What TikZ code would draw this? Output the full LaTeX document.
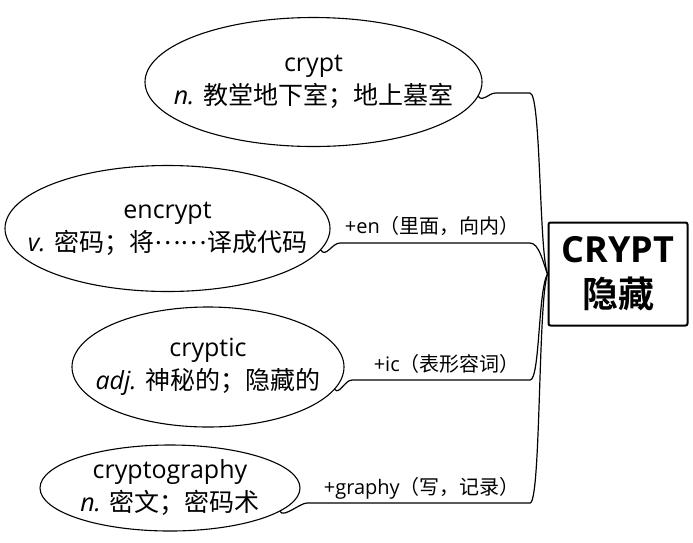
\documentclass[tikz,border=0pt]{standalone}
\usepackage{fontspec}
\setmainfont{Open Sans}
\newfontfamily\cjk{Noto Sans CJK SC}[BoldFont={Noto Sans CJK SC Bold}]
\newcommand\zhtxt[1]{{\cjk #1}}
\usetikzlibrary{shapes.geometric}
\begin{document}
\begin{tikzpicture}[x=1pt,y=-1pt,
  word/.style={ellipse,draw,line width=1.1pt,inner xsep=-70pt,inner ysep=-20pt,
    align=center,font=\fontsize{25}{33}\selectfont},
  conn/.style={line width=1.2pt,line join=round},
  lab/.style={inner sep=0pt,anchor=base east,font=\fontsize{20}{22}\selectfont},
  root/.style={draw,line width=2pt,rounded corners=2pt,align=center,
    minimum width=139pt,minimum height=103pt,inner sep=0pt,
    font=\fontsize{36}{45}\selectfont\bfseries}]
\useasboundingbox (0,0) rectangle (693,542);
\node[word,minimum width=337pt,minimum height=129pt] (e1) at (313.5,82)
  {crypt\\\textit{n.} \zhtxt{教堂地下室；地上墓室}};
\node[word,minimum width=325pt,minimum height=126pt] (e2) at (167.5,228.5)
  {encrypt\\\textit{v.} \zhtxt{密码；将\raisebox{0.28em}[0pt][0pt]{……}译成代码}};
\node[word,minimum width=272pt,minimum height=120pt] (e3) at (208,367)
  {cryptic\\\textit{adj.} \zhtxt{神秘的；隐藏的}};
\node[word,minimum width=260pt,minimum height=86pt] (e4) at (170,488)
  {cryptography\\\textit{n.} \zhtxt{密文；密码术}};
\node[root] (box) at (618,274) {CRYPT\\\zhtxt{隐藏}};
\node[lab] (l2) at (520,233) {+en\zhtxt{（里面，向内）}};
\node[lab] (l3) at (520,371) {+ic\zhtxt{（表形容词）}};
\node[lab] (l4) at (520,494) {+graphy\zhtxt{（写，记录）}};
\draw[conn] (e1.-5) .. controls +(5,6) and (488,93) .. (496,93) -- (530,93)
  .. controls (541,93) and (539,250) .. (box.west);
\draw[conn] (e2.-8) .. controls +(5,8) and (332,243) .. (340,243) -- (530,243)
  .. controls (539,243) and (543,262) .. (box.west);
\draw[conn] (e3.-10) .. controls +(4,6) and (345,380) .. (352,380) -- (530,380)
  .. controls (540,380) and (538,290) .. (box.west);
\draw[conn] (e4.-12) .. controls +(3,7) and (300,503) .. (307,503) -- (530,503)
  .. controls (541,503) and (538,300) .. (box.west);
\end{tikzpicture}
\end{document}
